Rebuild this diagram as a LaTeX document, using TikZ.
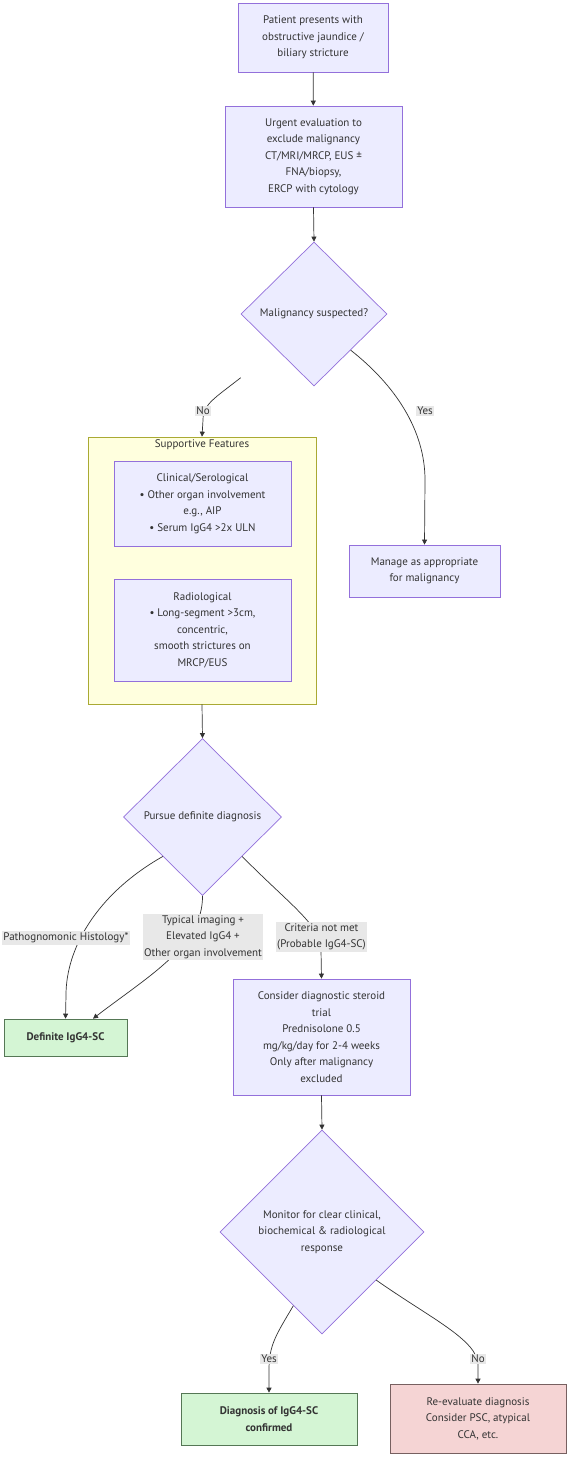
\documentclass[tikz,border=0pt]{standalone}
\usepackage{fontspec}
\setmainfont{PT Sans}
\usetikzlibrary{shapes.geometric,arrows.meta,calc}
\definecolor{nfill}{HTML}{ECECFF}
\definecolor{nborder}{HTML}{9370DB}
\definecolor{cfill}{HTML}{FFFFDE}
\definecolor{cborder}{HTML}{AAAA33}
\definecolor{txt}{HTML}{333333}
\definecolor{lblbg}{HTML}{E8E8E8}
\definecolor{gfill}{HTML}{D4F5D4}
\definecolor{gborder}{HTML}{557755}
\definecolor{rfill}{HTML}{F5D4D4}
\definecolor{rborder}{HTML}{776060}
\begin{document}
\begin{tikzpicture}[x=1pt,y=-1pt,
 every node/.style={font=\fontsize{11}{16.5}\selectfont, text=txt},
 box/.style={draw=nborder, fill=nfill, line width=0.7pt, align=center, inner sep=0pt},
 dia/.style={diamond, draw=nborder, fill=nfill, line width=0.7pt, align=center, inner sep=0pt},
 gbox/.style={box, draw=gborder, fill=gfill, font=\fontsize{11}{16.5}\selectfont\bfseries},
 rbox/.style={box, draw=rborder, fill=rfill},
 lbl/.style={fill=lblbg, align=center, inner sep=1.5pt},
 arr/.style={draw=txt, line width=0.7pt, -{Triangle[length=5pt,width=5pt]}}]
\useasboundingbox (0,0) rectangle (570,1458);
\fill[white] (0,0) rectangle (570,1458);

% cluster
\node[draw=cborder, fill=cfill, line width=0.7pt, minimum width=228, minimum height=267, inner sep=0pt] (cl) at (202,570.5) {};
\node (clt) at (202,445) {Supportive Features};

% nodes
\node[box, minimum width=150, minimum height=69] (p1) at (313,37.5) {Patient presents with\\obstructive jaundice /\\biliary stricture};
\node[box, minimum width=177, minimum height=101] (p2) at (313.5,156.5) {Urgent evaluation to\\exclude malignancy\\CT/MRI/MRCP, EUS ±\\FNA/biopsy,\\ERCP with cytology};
\node[dia, minimum width=146, minimum height=144] (d1) at (314,314) {Malignancy suspected?};
\node[box, minimum width=151, minimum height=52] (mg) at (424.5,571) {Manage as appropriate\\for malignancy};
\node[box, minimum width=177, minimum height=85] (cs) at (202.5,503.5) {Clinical/Serological\\• Other organ involvement\\e.g., AIP\\• Serum IgG4 >2x ULN};
\node[box, minimum width=177, minimum height=102] (rd) at (202.5,630) {Radiological\\• Long-segment >3cm,\\concentric,\\smooth strictures on\\MRCP/EUS};
\node[dia, minimum width=158, minimum height=157] (d2) at (202.5,817) {Pursue definite diagnosis};
\node[gbox, minimum width=123, minimum height=37] (df) at (65.5,1037.5) {Definite IgG4-SC};
\node[box, minimum width=177, minimum height=116] (st) at (321.5,1037) {Consider diagnostic steroid\\trial\\Prednisolone 0.5\\mg/kg/day for 2-4 weeks\\Only after malignancy\\excluded};
\node[dia, minimum width=204, minimum height=204] (d3) at (322,1232) {Monitor for clear clinical,\\biochemical \& radiological\\response};
\node[gbox, minimum width=176, minimum height=52] (dg) at (269,1419) {Diagnosis of IgG4-SC\\confirmed};
\node[rbox, minimum width=176, minimum height=69] (re) at (478,1418.5) {Re-evaluate diagnosis\\Consider PSC, atypical\\CCA, etc.};

\coordinate (noStart) at (240.7,377.7);

% edges
\draw[arr] (p1) -- (p2);
\draw[arr] (p2.south) -- (d1.north);
\draw[arr] (noStart) .. controls (215,398) and (203,404) .. (203,420) -- (cl.north);
\draw[arr] ($(d1.east)!0.5!(d1.south)$) .. controls (395,385) and (425,430) .. (425,480) -- (mg.north);
\draw[arr] (cl.south) -- (d2.north);
\draw[arr] ($(d2.west)!0.5!(d2.south)$) .. controls (95,895) and (66,950) .. (66,995) -- (df.north);
\draw[arr] (d2.south) .. controls (203,945) and (150,975) .. ($(df.north)+(27.5,0)$);
\draw[arr] ($(d2.east)!0.5!(d2.south)$) .. controls (290,905) and (321,925) .. (321,950) -- (st.north);
\draw[arr] (st.south) -- (d3.north);
\draw[arr] ($(d3.west)!0.72!(d3.south)$) .. controls (276,1335) and (269,1345) .. (269,1370) -- (dg.north);
\draw[arr] ($(d3.east)!0.47!(d3.south)$) .. controls (430,1318) and (478,1340) .. (478,1365) -- (re.north);

% edge labels
\node[lbl] (lNo) at (203,411) {No};
\node[lbl] (lYes) at (425,411) {Yes};
\node[lbl] (lPath) at (66,938) {Pathognomonic Histology*};
\node[lbl] (lTyp) at (203,937) {Typical imaging +\\Elevated IgG4 +\\Other organ involvement};
\node[lbl] (lCrit) at (321.5,937) {Criteria not met\\(Probable IgG4-SC)};
\node[lbl] (lYes2) at (269,1359) {Yes};
\node[lbl] (lNo2) at (478,1359) {No};
\end{tikzpicture}
\end{document}
